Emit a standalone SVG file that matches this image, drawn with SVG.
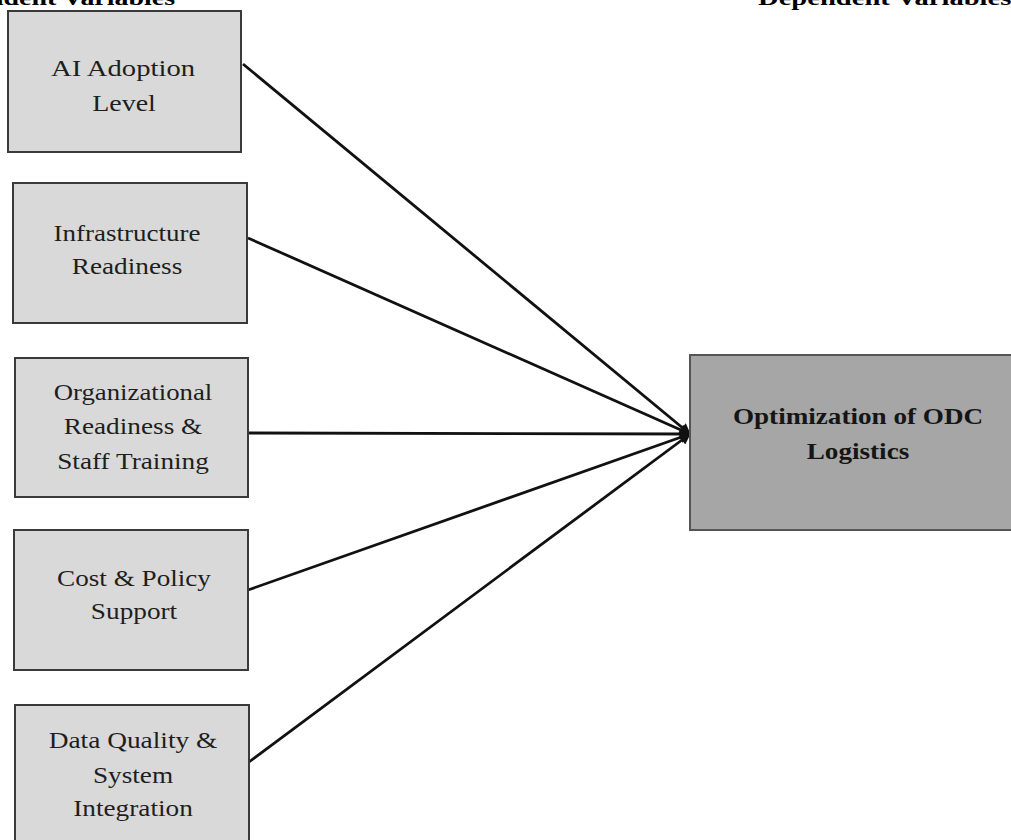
<svg xmlns="http://www.w3.org/2000/svg" width="1011" height="840" viewBox="0 0 1011 840">
<style>
.src{fill:#d9d9d9;stroke:#3a3a3a;stroke-width:2}
.dst{fill:#a6a6a6;stroke:#555;stroke-width:2}
.t{font-family:"Liberation Serif","Times New Roman",serif;font-size:23.5px;fill:#1e1e1e;text-anchor:middle}
.tb{font-family:"Liberation Serif","Times New Roman",serif;font-size:23px;font-weight:bold;fill:#151515;text-anchor:middle}
.hd{font-family:"Liberation Serif","Times New Roman",serif;font-size:22px;font-weight:bold;fill:#000}
.c{stroke:#111;stroke-width:2.8;fill:none;marker-end:url(#ah)}
</style>
<defs>
<marker id="ah" viewBox="0 0 10 10" refX="9" refY="5" markerWidth="4.5" markerHeight="4" orient="auto" markerUnits="strokeWidth">
<path d="M0,0 L10,5 L0,10 z" fill="#111"/>
</marker>
</defs>
<rect width="1011" height="840" fill="#fff"/>
<g id="headers">
<text class="hd" transform="translate(175,5) scale(1.27,1)" text-anchor="end">Independent Variables</text>
<text class="hd" transform="translate(758,5) scale(1.3,1)">Dependent Variables</text>
</g>
<g id="connectors">
<line class="c" x1="243" y1="64" x2="690" y2="434"/>
<line class="c" x1="248" y1="238" x2="690" y2="434"/>
<line class="c" x1="249" y1="433" x2="690" y2="434"/>
<line class="c" x1="248" y1="590" x2="690" y2="434"/>
<line class="c" x1="249" y1="762" x2="690" y2="434"/>
</g>
<g id="ai-adoption">
<rect class="src" x="8" y="11" width="233" height="141"/>
<text class="t" transform="translate(123,76) scale(1.22,1)">AI Adoption</text>
<text class="t" transform="translate(124,111) scale(1.19,1)">Level</text>
</g>
<g id="infrastructure">
<rect class="src" x="13" y="183" width="234" height="140"/>
<text class="t" transform="translate(127,241) scale(1.15,1)">Infrastructure</text>
<text class="t" transform="translate(127,274) scale(1.16,1)">Readiness</text>
</g>
<g id="organizational">
<rect class="src" x="15" y="358" width="233" height="139"/>
<text class="t" transform="translate(133,400) scale(1.14,1)">Organizational</text>
<text class="t" transform="translate(133,434) scale(1.16,1)">Readiness &amp;</text>
<text class="t" transform="translate(133,469) scale(1.16,1)">Staff Training</text>
</g>
<g id="cost-policy">
<rect class="src" x="14" y="530" width="234" height="140"/>
<text class="t" transform="translate(134,586) scale(1.155,1)">Cost &amp; Policy</text>
<text class="t" transform="translate(134,619) scale(1.16,1)">Support</text>
</g>
<g id="data-quality">
<rect class="src" x="15" y="705" width="234" height="142"/>
<text class="t" transform="translate(133,748) scale(1.165,1)">Data Quality &amp;</text>
<text class="t" transform="translate(133,783) scale(1.16,1)">System</text>
<text class="t" transform="translate(133,816) scale(1.16,1)">Integration</text>
</g>
<g id="optimization">
<rect class="dst" x="690" y="355" width="330" height="175"/>
<text class="tb" transform="translate(858,424) scale(1.18,1)">Optimization of ODC</text>
<text class="tb" transform="translate(858,459) scale(1.18,1)">Logistics</text>
</g>
</svg>
